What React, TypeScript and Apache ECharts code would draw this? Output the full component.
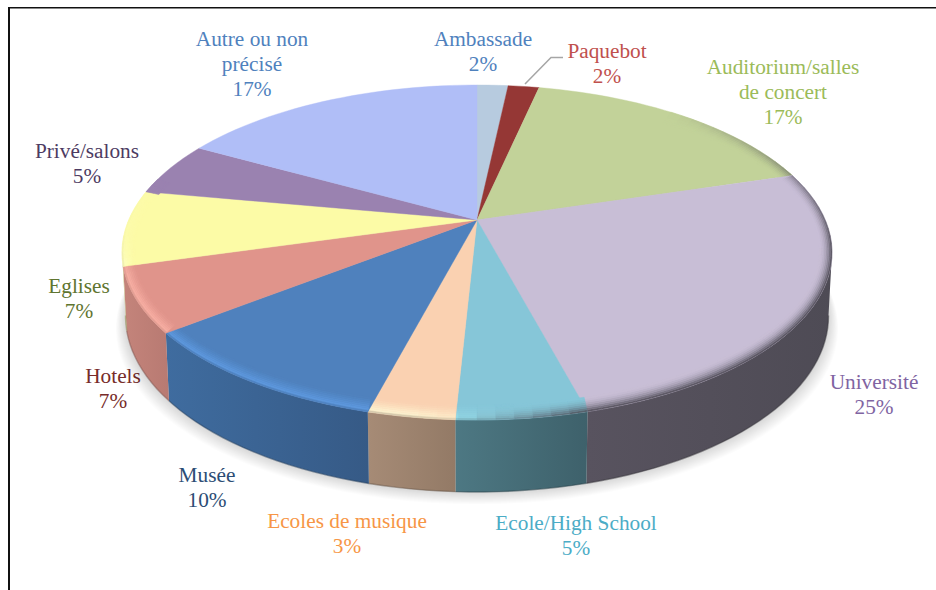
import React, { useEffect, useRef } from "react";
import * as echarts from "echarts";

// Slice shares (the drawn angles), and the printed labels
const sliceNames = ["Ambassade", "Paquebot", "Auditorium/salles\nde concert", "Université", "Ecole/High School", "Ecoles de musique", "Musée", "Hotels", "Eglises", "Privé/salons", "Autre ou non\nprécisé"];
const sliceShares = [1.7, 1.7, 16.9, 25.55, 4.95, 3.3, 10.3, 6.2, 7.3, 5.2, 16.9];
const printedPercents = ["2%", "2%", "17%", "25%", "5%", "3%", "10%", "7%", "7%", "5%", "17%"];

// Styles
const topColors = ["#B7CBDF", "#953735", "#C2D299", "#C8BED6", "#86C6D8", "#FAD1B1", "#4F81BD", "#E0948B", "#FCFBA6", "#9A82B0", "#B0BEF7"];
const wallLeft = ["#8A99A8", "#6F2928", "#92A073", "#58535F", "#4D7883", "#A68B76", "#3F6C9F", "#C4847B", "#C8C784", "#7A6790", "#8590BB"];
const wallRight = ["#8A99A8", "#6F2928", "#92A073", "#4E4B55", "#3E616B", "#937A66", "#365A86", "#B87A72", "#C8C784", "#7A6790", "#8590BB"];
const labelColors = ["#4F81BD", "#C0504D", "#9BBB59", "#8064A2", "#4BACC6", "#F79646", "#2C4D75", "#772C2A", "#5F7530", "#4D3B62", "#4F81BD"];
const labelAnchors: number[][] = [[483, 27], [607, 39], [783, 55], [874, 370], [576, 511], [347, 509], [207, 463], [113, 364], [79, 274], [87, 139], [252, 27]];

// Perspective disc geometry
const APEX_X = 477, APEX_Y = 220, DISC_A = 348.3, DISC_B = 161.2, DISC_K = 0.194;
const WALL_D = 62, WALL_SX = 0.99, WALL_SY = 1.05, BEVEL_X = 13, BEVEL_Y = 15;
const WALL_FROM = 101, WALL_TO = 259;
const SHADOW_LAYERS = 13;
const rad = (d: number) => (d * Math.PI) / 180;

const rimOffset = (deg: number) => {
  const s = Math.sin(rad(deg)), c = Math.cos(rad(deg)), den = 1 + DISC_K * c;
  return [(DISC_A * s) / den, (-DISC_B * c) / den];
};
const rimPoint = (deg: number, t = 0) => {
  const [x, y] = rimOffset(deg);
  return [APEX_X + x - BEVEL_X * t * Math.sin(rad(deg)), APEX_Y + y + BEVEL_Y * t * Math.cos(rad(deg))];
};
const basePoint = (deg: number) => {
  const [x, y] = rimOffset(deg);
  return [APEX_X + WALL_SX * x, APEX_Y + WALL_D + WALL_SY * y];
};
const arcDegs = (from: number, to: number, step = 2) => {
  const out: number[] = [];
  for (let d = from; d < to; d += step) out.push(d);
  out.push(to);
  return out;
};
const hex = (c: string) => [1, 3, 5].map((i) => parseInt(c.slice(i, i + 2), 16));
const mix = (a: string, b: string, f: number) => {
  const A = hex(a), B = hex(b);
  return "#" + A.map((v, i) => Math.min(255, Math.round(v + (B[i] - v) * f)).toString(16).padStart(2, "0")).join("");
};
const brighten = (a: string, f: number) => "#" + hex(a).map((v) => Math.min(255, Math.round(v * f)).toString(16).padStart(2, "0")).join("");
const ramp = (x: number, a: number, b: number) => Math.max(0, Math.min(1, (x - a) / (b - a)));

const darkAt = (deg: number) => (deg < 165 ? ramp(deg, 40, 100) : 1 - ramp(deg, 165, 183));
const litAt = (deg: number) => ramp(deg, 170, 190) * (deg > 250 ? 1 - 0.8 * ramp(deg, 250, 265) : 1) * (deg > 265 ? 1 - ramp(deg, 265, 285) : 1);

const cumulative = sliceShares.reduce<number[]>((acc, v) => [...acc, acc[acc.length - 1] + v], [0]);
const total = cumulative[cumulative.length - 1];
const sliceData = sliceShares.map((_, i) => [cumulative[i], cumulative[i + 1], i]);
const toDeg = (share: number) => (share / total) * 360;

const renderShadow = () => {
  const children: any[] = [];
  for (let n = SHADOW_LAYERS; n >= 1; n--) {
    const grow = 1 + (n * 0.75) / 350;
    const dy = n * 0.95;
    children.push({
      type: "polygon",
      shape: {
        points: arcDegs(0, 360, 3).map((d) => {
          const [x, y] = basePoint(d);
          return [APEX_X + (x - APEX_X) * grow, y + dy];
        }),
      },
      style: { fill: "rgba(0,0,0,0.012)" },
    });
  }
  return { type: "group", children };
};

const renderWall = (_: any, api: any) => {
  const i = api.value(2);
  const a = Math.max(toDeg(api.value(0)), WALL_FROM);
  const b = Math.min(toDeg(api.value(1)), WALL_TO);
  if (b <= a) return { type: "group", children: [] };
  const degs = arcDegs(a, b);
  const rim = degs.map((d) => rimPoint(d));
  const base = degs.map((d) => basePoint(d));
  const fill = new echarts.graphic.LinearGradient(0, 0, 1, 0, [
    { offset: 0, color: wallLeft[i] },
    { offset: 1, color: wallRight[i] },
  ]);
  return {
    type: "group",
    children: [
      { type: "polygon", shape: { points: [...rim, ...base.slice().reverse()] }, style: { fill } },
      { type: "polyline", shape: { points: base }, style: { fill: "none", stroke: mix(wallRight[i], "#000000", 0.3), lineWidth: 1.4, opacity: 0.5 } },
    ],
  };
};

const renderTop = (_: any, api: any) => {
  const i = api.value(2);
  const a = toDeg(api.value(0));
  const b = toDeg(api.value(1));
  const base = topColors[i];
  const children: any[] = [
    {
      type: "polygon",
      shape: { points: [[APEX_X, APEX_Y], ...arcDegs(a, b).map((d) => rimPoint(d))] },
      style: { fill: base, stroke: base, lineWidth: 0.4 },
    },
  ];
  const STRIPS = 8;
  const step = 2.5;
  const highlight = brighten(base, 1.24);
  for (let d = a; d < b; d += step) {
    const e = Math.min(b, d + step);
    const m = (d + e) / 2;
    const dark = darkAt(m), lit = litAt(m);
    if (dark <= 0 && lit <= 0) continue;
    for (let s = 0; s < STRIPS; s++) {
      const t0 = s / STRIPS, t1 = (s + 1) / STRIPS, t = (t0 + t1) / 2;
      let c = mix(base, highlight, lit * Math.pow(1 - t, 1.3));
      c = mix(c, wallRight[i], lit * 0.55 * (1 - ramp(t, 0, 0.2)));
      c = mix(c, "#4E4B55", dark * Math.pow(1 - t, 2));
      children.push({
        type: "polygon",
        shape: { points: [rimPoint(d, t0), rimPoint(e, t0), rimPoint(e, t1), rimPoint(d, t1)] },
        style: { fill: c, stroke: c, lineWidth: 0.4 },
      });
    }
  }
  return { type: "group", children };
};

export default function App() {
  const ref = useRef<HTMLDivElement>(null);
  useEffect(() => {
    const chart = echarts.init(ref.current!, undefined, { renderer: "svg" });
    chart.setOption({
      animation: false,
      backgroundColor: "#ffffff",
      series: [
        { type: "custom", coordinateSystem: "none", silent: true, z: 1, data: [[0]], renderItem: renderShadow },
        { type: "custom", coordinateSystem: "none", silent: true, z: 2, data: sliceData, renderItem: renderWall },
        { type: "custom", coordinateSystem: "none", silent: true, z: 3, data: sliceData, renderItem: renderTop },
      ],
      graphic: [
        { type: "rect", shape: { x: 8, y: 7, width: 928, height: 1.5 }, style: { fill: "#111111" }, silent: true },
        { type: "rect", shape: { x: 8, y: 7, width: 2, height: 583 }, style: { fill: "#111111" }, silent: true },
        {
          type: "polyline",
          shape: { points: [[525, 84], [551, 57.5], [563, 57.5]] },
          style: { fill: "none", stroke: "#A6A6A6", lineWidth: 1.5 },
          silent: true,
        },
        ...sliceNames.map((name, i) => ({
          type: "text",
          x: labelAnchors[i][0],
          y: labelAnchors[i][1],
          silent: true,
          style: {
            text: `${name}\n${printedPercents[i]}`,
            fill: labelColors[i],
            font: '21.3px "Liberation Serif"',
            lineHeight: 24.6,
            align: "center",
            verticalAlign: "top",
          },
        })),
      ],
    });
    return () => chart.dispose();
  }, []);
  return <div ref={ref} style={{ position: "absolute", left: 0, top: 0, width: 936, height: 590 }} />;
}
